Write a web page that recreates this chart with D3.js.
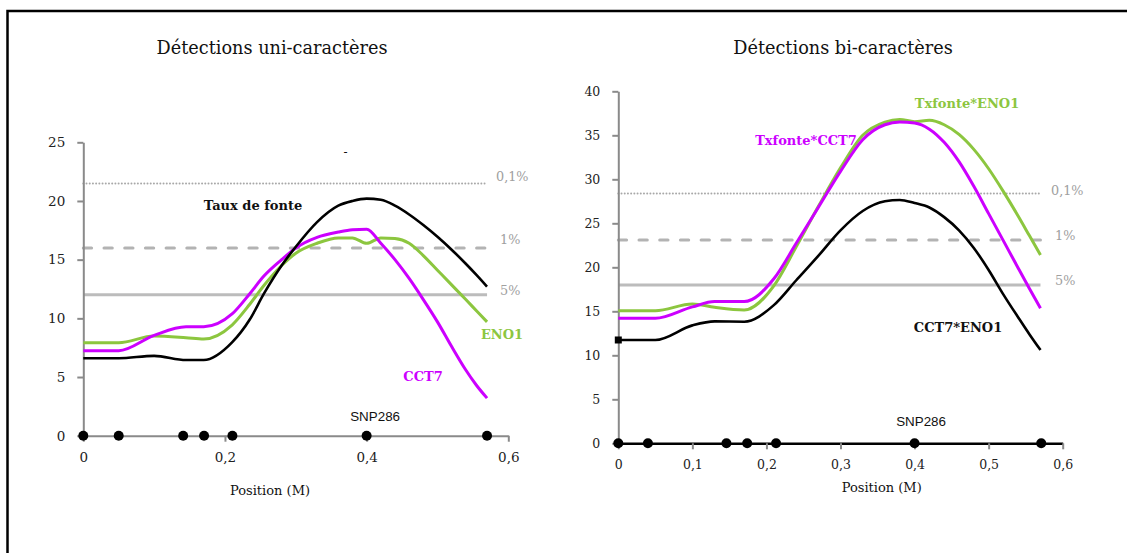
<!DOCTYPE html>
<html><head><meta charset="utf-8">
<script src="https://cdn.jsdelivr.net/npm/d3@7/dist/d3.min.js"></script>
<style>body{margin:0;background:#fff}</style>
</head><body><svg id="c" width="1127" height="553"></svg>
<script>
// ---------- Left panel: single-trait detections ----------
const positionsL = [0, 0.05, 0.1, 0.145, 0.17, 0.21, 0.235, 0.255, 0.28, 0.3, 0.33, 0.36, 0.38, 0.4, 0.42, 0.44, 0.46, 0.48, 0.5, 0.52, 0.54, 0.555, 0.57];
const tauxFonte = [6.6, 6.6, 6.8, 6.45, 6.45, 7.95, 9.9, 12.1, 14.5, 16.1, 18.2, 19.6, 20.0, 20.2, 20.1, 19.6, 18.85, 17.95, 16.95, 15.85, 14.65, 13.7, 12.7];
const cct7 = [7.24, 7.24, 8.55, 9.28, 9.28, 10.37, 12.1, 13.6, 15.0, 16.0, 16.9, 17.35, 17.55, 17.6, 16.4, 15.0, 13.4, 11.6, 9.7, 7.6, 5.6, 4.3, 3.2];
const eno1 = [7.92, 7.92, 8.49, 8.35, 8.24, 9.43, 11.2, 12.8, 14.5, 15.55, 16.4, 16.85, 16.85, 16.39, 16.85, 16.8, 16.4, 15.35, 14.1, 12.85, 11.6, 10.65, 9.7];
const markersL = [0, 0.05, 0.141, 0.1705, 0.2105, 0.4, 0.57];

// ---------- Right panel: two-trait detections ----------
const positionsR = [0, 0.05, 0.1, 0.13, 0.17, 0.21, 0.24, 0.27, 0.3, 0.33, 0.36, 0.38, 0.4, 0.42, 0.44, 0.46, 0.48, 0.5, 0.52, 0.54, 0.555, 0.57];
const txfonteCct7 = [14.2, 14.2, 15.5, 16.1, 16.1, 18.7, 22.7, 26.8, 30.9, 34.5, 36.2, 36.5, 36.4, 35.7, 34.2, 32.0, 29.2, 26.1, 23.0, 19.9, 17.6, 15.35];
const txfonteEno1 = [15.07, 15.07, 15.83, 15.45, 15.15, 17.9, 22.3, 26.9, 31.3, 35.0, 36.5, 36.8, 36.55, 36.7, 36.2, 35.1, 33.4, 31.2, 28.6, 25.8, 23.6, 21.4];
const cct7Eno1 = [11.74, 11.74, 13.4, 13.85, 13.82, 15.7, 18.5, 21.3, 24.2, 26.4, 27.5, 27.65, 27.3, 26.8, 25.7, 24.2, 22.2, 19.7, 16.9, 14.3, 12.4, 10.6];
const markersR = [0, 0.04, 0.146, 0.174, 0.213, 0.4, 0.571];

// ---------- thresholds & ticks ----------
const thresholdNames = ["0,1%", "1%", "5%"];
const thresholdsL = [21.5, 16, 12];
const thresholdsR = [28.4, 23.1, 18];
const thresholdEnd = 0.57;
const xTicksL = [0, 0.2, 0.4, 0.6];
const xTicksR = [0, 0.1, 0.2, 0.3, 0.4, 0.5, 0.6];
const yTicksL = [0, 5, 10, 15, 20, 25];
const yTicksR = [0, 5, 10, 15, 20, 25, 30, 35, 40];

const svg = d3.select("#c");
const SERIF = "'DejaVu Serif', serif";
const SANS = "'Liberation Sans', Arial, sans-serif";
const GREEN = "#8cc63f", MAGENTA = "#cc00ff", AXIS = "#8a8a8a", TGREY = "#a0a0a0";
const fmt = d => d === 0 ? "0" : String(d).replace(".", ",");

// frame
svg.append("path").attr("d", "M7.5,553 V11 H1127").attr("fill", "none").attr("stroke", "#000").attr("stroke-width", 2.5);

function panel(cfg) {
  const g = svg.append("g");
  const x = d3.scaleLinear().domain([0, 0.6]).range(cfg.xr);
  const y = d3.scaleLinear().domain([0, cfg.ymax]).range(cfg.yr);

  // title
  g.append("text").attr("x", cfg.titleX).attr("y", 54).attr("text-anchor", "middle")
    .attr("font-family", SERIF).attr("font-size", 17.7).attr("fill", "#111").text(cfg.title);

  // thresholds
  const styles = [
    {stroke: "#a8a8a8", w: 2, dash: "0.01 3.2"},
    {stroke: "#b3b3b3", w: 3, dash: "8.3 12.4"},
    {stroke: "#bcbcbc", w: 3, dash: null}
  ];
  cfg.thr.forEach((v, i) => {
    const s = styles[i];
    const l = g.append("line").attr("x1", x(0)).attr("x2", x(thresholdEnd)).attr("y1", y(v)).attr("y2", y(v))
      .attr("stroke", s.stroke).attr("stroke-width", s.w).attr("stroke-linecap", s.dash ? "round" : "butt");
    if (s.dash) l.attr("stroke-dasharray", s.dash);
    g.append("text").attr("x", cfg.thrLabelX + (i === 0 ? -4 : 0)).attr("y", y(v) + cfg.thrLabelDy[i])
      .attr("font-family", SERIF).attr("font-size", 12.8).attr("fill", TGREY)
      .attr("dominant-baseline", "central").text(thresholdNames[i]);
  });

  // axes
  const ya = g.append("g").attr("transform", `translate(${x(0)},0)`)
    .call(d3.axisLeft(y).tickValues(cfg.yTicks).tickSize(6).tickSizeOuter(0).tickPadding(12).tickFormat(fmt));
  const xa = g.append("g").attr("transform", `translate(0,${y(0)})`)
    .call(d3.axisBottom(x).tickValues(cfg.xTicks).tickSize(6).tickSizeOuter(0).tickPadding(cfg.xPad).tickFormat(fmt));
  [ya, xa].forEach(a => {
    a.select(".domain").attr("stroke", AXIS).attr("stroke-width", 2);
    a.selectAll(".tick line").attr("stroke", AXIS).attr("stroke-width", 2);
    a.selectAll(".tick text").attr("font-family", SERIF).attr("font-size", cfg.tickFont).attr("fill", "#222");
  });
  if (cfg.blackBase) xa.select(".domain").attr("stroke", "#000").attr("stroke-width", 2.5);

  // x title
  g.append("text").attr("x", cfg.xTitle[0]).attr("y", cfg.xTitle[1]).attr("text-anchor", "middle")
    .attr("font-family", SERIF).attr("font-size", 13).attr("fill", "#111").text("Position (M)");

  // curves
  const line = d3.line().x((d, i) => x(cfg.pos[i])).y(d => y(d)).curve(d3.curveMonotoneX);
  cfg.series.forEach(s => {
    g.append("path").datum(s.values).attr("d", line).attr("fill", "none")
      .attr("stroke", s.color).attr("stroke-width", s.w).attr("stroke-linejoin", "round");
  });
  if (cfg.startSquare) {
    const v = cfg.startSquare;
    g.append("rect").attr("x", x(0) - 3.5).attr("y", y(v) - 3.5).attr("width", 7).attr("height", 7).attr("fill", "#000");
  }

  // markers
  g.selectAll("circle.m").data(cfg.markers).join("circle").attr("class", "m")
    .attr("cx", d => x(d)).attr("cy", y(0)).attr("r", 5).attr("fill", "#000");
  g.append("text").attr("x", x(0.4) + cfg.snpDx).attr("y", y(0) + cfg.snpDy).attr("text-anchor", "middle")
    .attr("font-family", SANS).attr("font-size", 13.4).attr("fill", "#111")
    .attr("dominant-baseline", "central").text("SNP286");

  // series labels
  cfg.labels.forEach(l => {
    g.append("text").attr("x", l.x).attr("y", l.y).attr("text-anchor", "middle")
      .attr("dominant-baseline", "central").attr("font-family", SERIF).attr("font-weight", "bold")
      .attr("font-size", 13).attr("fill", l.c).text(l.t);
  });
  return {x, y, g};
}

const L = panel({
  title: "Détections uni-caractères", titleX: 272,
  xr: [83.3, 508.3], yr: [435.7, 142.3], ymax: 25,
  yTicks: yTicksL, xTicks: xTicksL, tickFont: 13.5, xPad: 10.5,
  thr: thresholdsL, thrLabelX: 500, thrLabelDy: [-7, -8, -4],
  xTitle: [270, 495], pos: positionsL,
  series: [
    {values: eno1, color: GREEN, w: 3},
    {values: cct7, color: MAGENTA, w: 3},
    {values: tauxFonte, color: "#000", w: 2.6}
  ],
  markers: markersL, snpDx: 8.5, snpDy: -19,
  labels: [
    {t: "Taux de fonte", x: 253, y: 205, c: "#111"},
    {t: "ENO1", x: 502, y: 334, c: GREEN},
    {t: "CCT7", x: 423, y: 376, c: MAGENTA}
  ]
});
// small dash above the peak (as in the original)
L.g.append("text").attr("x", 345.5).attr("y", 152).attr("text-anchor", "middle").attr("dominant-baseline", "central")
  .attr("font-family", SERIF).attr("font-size", 12).attr("fill", "#111").text("-");

const R = panel({
  title: "Détections bi-caractères", titleX: 843,
  xr: [618.3, 1062.7], yr: [443.3, 91.3], ymax: 40,
  yTicks: yTicksR, xTicks: xTicksR, tickFont: 12.5, xPad: 11.3,
  thr: thresholdsR, thrLabelX: 1055, thrLabelDy: [-3, -5, -4],
  xTitle: [881.7, 491.5], pos: positionsR,
  series: [
    {values: txfonteEno1, color: GREEN, w: 3},
    {values: txfonteCct7, color: MAGENTA, w: 3},
    {values: cct7Eno1, color: "#000", w: 2.6}
  ],
  startSquare: cct7Eno1[0], blackBase: true,
  markers: markersR, snpDx: 6.5, snpDy: -21.5,
  labels: [
    {t: "Txfonte*ENO1", x: 967, y: 103, c: GREEN},
    {t: "Txfonte*CCT7", x: 806, y: 140, c: MAGENTA},
    {t: "CCT7*ENO1", x: 958, y: 327, c: "#111"}
  ]
});
</script></body></html>
